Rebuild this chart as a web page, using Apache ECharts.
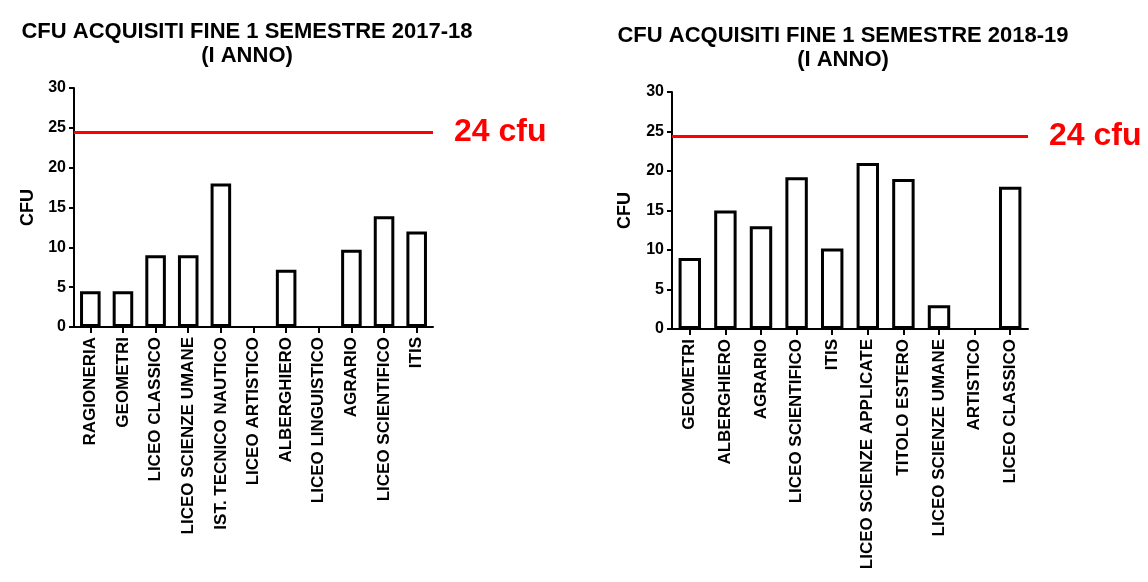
<!DOCTYPE html>
<html>
<head>
<meta charset="utf-8">
<title>CFU acquisiti</title>
<script src="https://cdn.jsdelivr.net/npm/echarts@6/dist/echarts.min.js"></script>
<style>
  html, body { margin: 0; padding: 0; background: #fff; }
  #chart { width: 1148px; height: 582px; }
</style>
</head>
<body>
<div id="chart"></div>
<script>
// dati
const titolo1718 = 'CFU ACQUISITI FINE 1 SEMESTRE 2017-18\n(I ANNO)'
const scuole1718 = ['RAGIONERIA', 'GEOMETRI', 'LICEO CLASSICO', 'LICEO SCIENZE UMANE', 'IST. TECNICO NAUTICO',
  'LICEO ARTISTICO', 'ALBERGHIERO', 'LICEO LINGUISTICO', 'AGRARIO', 'LICEO SCIENTIFICO', 'ITIS']
const cfu1718 = [4.5, 4.5, 9, 9, 18, 0, 7.2, 0, 9.7, 13.9, 12]

const titolo1819 = 'CFU ACQUISITI FINE 1 SEMESTRE 2018-19\n(I ANNO)'
const scuole1819 = ['GEOMETRI', 'ALBERGHIERO', 'AGRARIO', 'LICEO SCIENTIFICO', 'ITIS', 'LICEO SCIENZE APPLICATE',
  'TITOLO ESTERO', 'LICEO SCIENZE UMANE', 'ARTISTICO', 'LICEO CLASSICO']
const cfu1819 = [9, 15, 13, 19.2, 10.2, 21, 19, 3, 0, 18]

const yMin = 0
const yMax = 30
const yStep = 5
const soglia = 24.4
const sogliaLabel = '24 cfu'

const FONT = '"Liberation Sans", Arial, sans-serif'

// asse y comune
const makeYAxis = (gridIndex, nameGap) => ({
  gridIndex,
  type: 'value',
  min: yMin,
  max: yMax,
  interval: yStep,
  name: 'CFU',
  nameLocation: 'middle',
  nameRotate: 90,
  nameGap,
  nameTextStyle: { color: '#000', fontFamily: FONT, fontWeight: 'bold', fontSize: 18 },
  axisLine: { show: true, lineStyle: { color: '#000', width: 2 } },
  axisTick: { show: true, length: 5, lineStyle: { color: '#000', width: 2 } },
  axisLabel: { color: '#000', fontFamily: FONT, fontWeight: 'bold', fontSize: 16, margin: 8 },
  splitLine: { show: false },
})

const makeXAxis = (gridIndex, data) => ({
  gridIndex,
  type: 'category',
  data,
  axisLine: { show: true, lineStyle: { color: '#000', width: 2 } },
  axisTick: { show: true, alignWithLabel: true, length: 6, lineStyle: { color: '#000', width: 2 } },
  axisLabel: {
    interval: 0,
    rotate: 90,
    margin: 10,
    color: '#000',
    fontFamily: FONT,
    fontWeight: 'bold',
    fontSize: 17,
  },
})

// le barre a zero non hanno bordo (come nell'originale)
const toBars = (values) => values.map((v) => (v === 0 ? { value: v, itemStyle: { borderWidth: 0 } } : v))

const makeSeries = (idx, data) => ({
  type: 'bar',
  xAxisIndex: idx,
  yAxisIndex: idx,
  data: toBars(data),
  barWidth: '63%',
  itemStyle: { color: '#fff', borderColor: '#000', borderWidth: 3 },
  silent: true,
  markLine: {
    silent: true,
    symbol: 'none',
    data: [{ yAxis: soglia }],
    lineStyle: { color: '#ff0000', width: 3, type: 'solid' },
    label: {
      show: true,
      position: 'end',
      distance: 21,
      formatter: sogliaLabel,
      color: '#ff0000',
      fontFamily: FONT,
      fontWeight: 'bold',
      fontSize: 32,
      padding: [0, 0, 12, 0],
    },
  },
})

const chart = echarts.init(document.getElementById('chart'), null, { renderer: 'canvas' })

const titleStyle = { color: '#000', fontFamily: FONT, fontWeight: 'bold', fontSize: 22, lineHeight: 24 }

chart.setOption({
  backgroundColor: '#fff',
  animation: false,
  title: [
    { text: titolo1718, left: 242, top: 15, textAlign: 'center', textStyle: titleStyle },
    { text: titolo1819, left: 838, top: 19, textAlign: 'center', textStyle: titleStyle },
  ],
  grid: [
    { left: 74, top: 88, width: 359, height: 239 },
    { left: 672, top: 92, width: 356, height: 237 },
  ],
  xAxis: [makeXAxis(0, scuole1718), makeXAxis(1, scuole1819)],
  yAxis: [makeYAxis(0, 37), makeYAxis(1, 38)],
  series: [makeSeries(0, cfu1718), makeSeries(1, cfu1819)],
})
</script>
</body>
</html>
